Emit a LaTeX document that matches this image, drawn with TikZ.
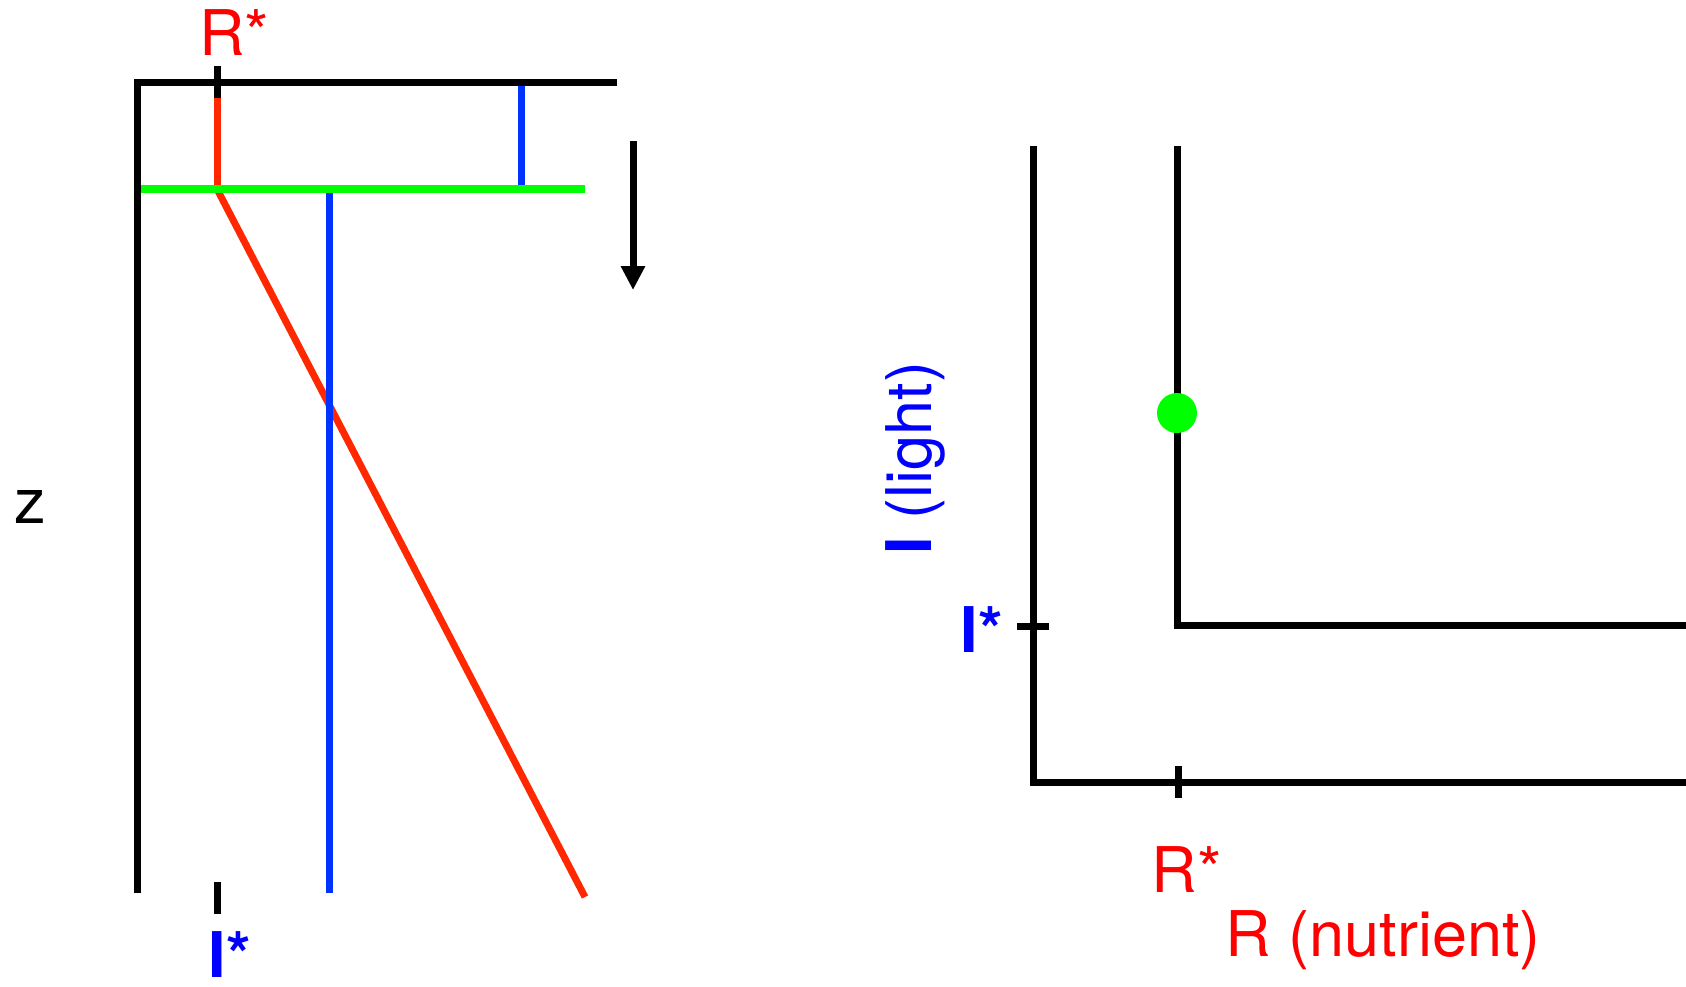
\documentclass[tikz,border=0pt]{standalone}
\usepackage{fontspec}
\setmainfont{TeX Gyre Heros}
\usetikzlibrary{arrows.meta}
\definecolor{linered}{RGB}{255,40,0}
\definecolor{txtred}{RGB}{255,0,0}
\definecolor{lineblue}{RGB}{0,51,255}
\definecolor{txtblue}{RGB}{0,0,255}
\definecolor{dotgreen}{RGB}{0,255,0}
\begin{document}
\begin{tikzpicture}[x=1pt,y=-1pt,line width=7pt,
  lbl/.style={inner sep=0pt,anchor=base west,font=\fontsize{63}{70}\selectfont},
  ticks/.style={black,line width=7pt}]
\useasboundingbox (0,0) rectangle (1686,986);
% ---- left panel ----
\coordinate (lbot) at (137,893);
\coordinate (lcorner) at (137,82);
\coordinate (ltopend) at (617,82);
\draw (lbot) -- (lcorner) -- (ltopend);
\coordinate (tt1) at (217,66);
\coordinate (tt2) at (217,98);
\draw[ticks] (tt1) -- (tt2);
\coordinate (rk) at (217,189);
\coordinate (rend) at (585,897);
\draw[linered] (tt2) -- (rk);
\draw[linered] (rk) -- (rend);
\coordinate (bs1) at (521,86);
\coordinate (bs2) at (521,185);
\draw[lineblue] (bs1) -- (bs2);
\coordinate (bl1) at (329,193);
\coordinate (bl2) at (329,893);
\draw[lineblue] (bl1) -- (bl2);
\coordinate (g1) at (141,189);
\coordinate (g2) at (585,189);
\draw[dotgreen,line width=7.5pt] (g1) -- (g2);
\coordinate (bt1) at (217,882);
\coordinate (bt2) at (217,914);
\draw[ticks] (bt1) -- (bt2);
\coordinate (a1) at (633,141);
\coordinate (a2) at (633,290);
\draw[-{Triangle[width=23pt,length=24pt]}] (a1) -- (a2);
\node[lbl,txtred] (rstartop) at (196,55) {R*};
\node[lbl,txtblue,text depth=0pt] (istarleft) at (205,977) {\bfseries I*};
\node[lbl] (zlabel) at (11,523) {z};
% ---- right panel ----
\coordinate (o1) at (1033,146);
\coordinate (o2) at (1033,782);
\coordinate (o3) at (1690,782);
\draw (o1) -- (o2) -- (o3);
\coordinate (i1) at (1177,146);
\coordinate (i2) at (1177,625);
\coordinate (i3) at (1690,625);
\draw (i1) -- (i2) -- (i3);
\coordinate (rt1) at (1178,766);
\coordinate (rt2) at (1178,798);
\draw[ticks] (rt1) -- (rt2);
\coordinate (it1) at (1017,626);
\coordinate (it2) at (1049,626);
\draw[ticks] (it1) -- (it2);
\node[circle,fill=dotgreen,inner sep=0pt,minimum size=40pt] (dot) at (1177,413) {};
\node[lbl,txtblue,rotate=90] (ilight) at (931,558) {\textbf{I} (light)};
\node[lbl,txtblue] (istarright) at (957,652) {\bfseries I*};
\node[lbl,txtred] (rstarbot) at (1148,892) {R*};
\node[lbl,txtred] (rnutr) at (1222,956) {R (nutrient)};
\end{tikzpicture}
\end{document}
